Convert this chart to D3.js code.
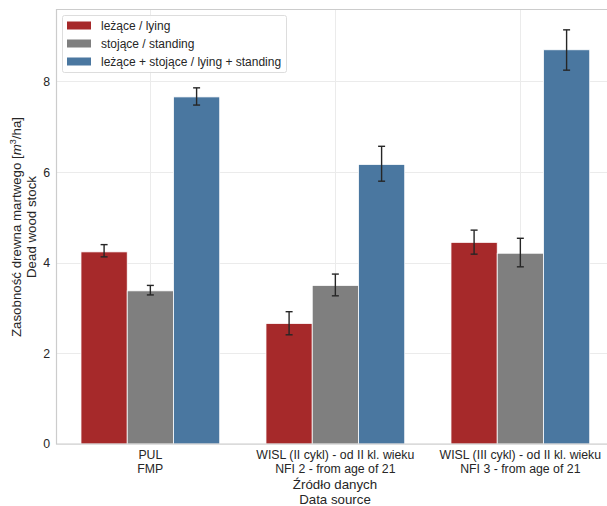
<!DOCTYPE html>
<html>
<head>
<meta charset="utf-8">
<script src="https://cdn.jsdelivr.net/npm/d3@7"></script>
<style>
  html, body { margin: 0; padding: 0; background: #fff; }
  svg { display: block; font-family: "Liberation Sans", Arial, sans-serif; }
</style>
</head>
<body>
<svg id="chart" width="607" height="506"></svg>
<script>
// Data sources (two-line category labels)
const categories = [
  ["PUL", "FMP"],
  ["WISL (II cykl) - od II kl. wieku", "NFI 2 - from age of 21"],
  ["WISL (III cykl) - od II kl. wieku", "NFI 3 - from age of 21"]
];
const seriesNames = ["leżące / lying", "stojące / standing", "leżące + stojące / lying + standing"];
const seriesColors = ["#a6292a", "#7f7f7f", "#4a77a0"];

// Mean dead wood stock [m3/ha] per series, one value per data source
const lying = [4.24, 2.66, 4.45];
const standing = [3.38, 3.50, 4.21];
const total = [7.66, 6.17, 8.70];

// Confidence interval bounds
const lyingLow = [4.13, 2.41, 4.19];
const lyingHigh = [4.40, 2.92, 4.72];
const standingLow = [3.29, 3.27, 3.91];
const standingHigh = [3.50, 3.75, 4.54];
const totalLow = [7.48, 5.80, 8.25];
const totalHigh = [7.86, 6.57, 9.14];

const yTicks = [0, 2, 4, 6, 8];

const series = [
  { values: lying, low: lyingLow, high: lyingHigh },
  { values: standing, low: standingLow, high: standingHigh },
  { values: total, low: totalLow, high: totalHigh }
];

const svg = d3.select("#chart");
const plotLeft = 56, plotTop = 9, plotBottom = 444, plotRight = 611;

const x = d3.scaleLinear().domain([-0.51, 2.49]).range([plotLeft, plotRight]);
const y = d3.scaleLinear().domain([0, 9.6]).range([plotBottom, plotTop]);
const barW = 0.25;
const offsets = [-0.25, 0, 0.25];

// Grid
const grid = svg.append("g").attr("stroke", "#ebebeb").attr("stroke-width", 1);
grid.selectAll("line.h").data(yTicks).join("line")
  .attr("x1", plotLeft).attr("x2", plotRight)
  .attr("y1", d => Math.round(y(d)) + 0.5).attr("y2", d => Math.round(y(d)) + 0.5);
grid.selectAll("line.v").data(categories.map((_, i) => i)).join("line")
  .attr("y1", plotTop).attr("y2", plotBottom)
  .attr("x1", d => Math.round(x(d)) + 0.5).attr("x2", d => Math.round(x(d)) + 0.5);

// Bars
series.forEach((s, si) => {
  svg.append("g").selectAll("rect").data(s.values).join("rect")
    .attr("x", (d, i) => x(i + offsets[si] - barW / 2))
    .attr("width", x(barW) - x(0))
    .attr("y", d => y(d))
    .attr("height", d => y(0) - y(d))
    .attr("fill", seriesColors[si])
    .attr("stroke", "#ffffff")
    .attr("stroke-width", 0.8);
});

// Error bars
series.forEach((s, si) => {
  const g = svg.append("g").attr("stroke", "#262626").attr("stroke-width", 1.4);
  s.values.forEach((v, i) => {
    const cx = x(i + offsets[si]);
    g.append("line").attr("x1", cx).attr("x2", cx).attr("y1", y(s.low[i])).attr("y2", y(s.high[i]));
    g.append("line").attr("x1", cx - 3.5).attr("x2", cx + 3.5).attr("y1", y(s.low[i])).attr("y2", y(s.low[i]));
    g.append("line").attr("x1", cx - 3.5).attr("x2", cx + 3.5).attr("y1", y(s.high[i])).attr("y2", y(s.high[i]));
  });
});

// Frame (left, bottom, top spines)
const frame = svg.append("g").attr("stroke", "#cccccc").attr("stroke-width", 1.2).attr("fill", "none");
frame.append("path").attr("d", `M${plotRight},${plotTop + 0.5}H${plotLeft + 0.5}V${plotBottom}H${plotRight}`);

// Y axis
const yAxis = svg.append("g").attr("transform", `translate(${plotLeft},0)`)
  .call(d3.axisLeft(y).tickValues(yTicks).tickSize(0).tickPadding(6).tickFormat(d3.format("d")));
yAxis.select(".domain").remove();
yAxis.selectAll("text").attr("font-size", 12.3).attr("fill", "#262626").attr("font-family", "Liberation Sans, Arial, sans-serif");

// X tick labels
const xl = svg.append("g").attr("font-size", 12.3).attr("fill", "#262626").attr("text-anchor", "middle");
categories.forEach((c, i) => {
  const t = xl.append("text").attr("x", x(i)).attr("y", 459);
  t.append("tspan").attr("x", x(i)).text(c[0]);
  t.append("tspan").attr("x", x(i)).attr("dy", 14).text(c[1]);
});

// X axis title
const xt = svg.append("text").attr("text-anchor", "middle").attr("font-size", 13.3).attr("fill", "#262626")
  .attr("x", 335).attr("y", 489);
xt.append("tspan").attr("x", 335).text("Źródło danych");
xt.append("tspan").attr("x", 335).attr("dy", 14.5).text("Data source");

// Y axis title
const yt = svg.append("text").attr("text-anchor", "middle").attr("font-size", 13.3).attr("fill", "#262626")
  .attr("transform", "translate(21,227) rotate(-90)");
const l1 = yt.append("tspan").attr("x", 0).attr("y", 0);
l1.append("tspan").text("Zasobność drewna martwego [");
l1.append("tspan").attr("font-style", "italic").text("m");
l1.append("tspan").attr("font-size", 9).attr("dy", -5).text("3");
l1.append("tspan").attr("dy", 5).text("/ha]");
yt.append("tspan").attr("x", 0).attr("dy", 15).text("Dead wood stock");

// Legend
const lg = svg.append("g");
lg.append("rect").attr("x", 62.5).attr("y", 15.5).attr("width", 224).attr("height", 57)
  .attr("rx", 2).attr("fill", "#fff").attr("fill-opacity", 0.85).attr("stroke", "#dddddd");
seriesNames.forEach((n, i) => {
  const yy = 25 + i * 18;
  lg.append("rect").attr("x", 67).attr("y", yy - 3.5).attr("width", 24).attr("height", 8).attr("fill", seriesColors[i]);
  lg.append("text").attr("x", 101).attr("y", yy + 4.5).attr("font-size", 12).attr("fill", "#262626").text(n);
});
</script>
</body>
</html>
